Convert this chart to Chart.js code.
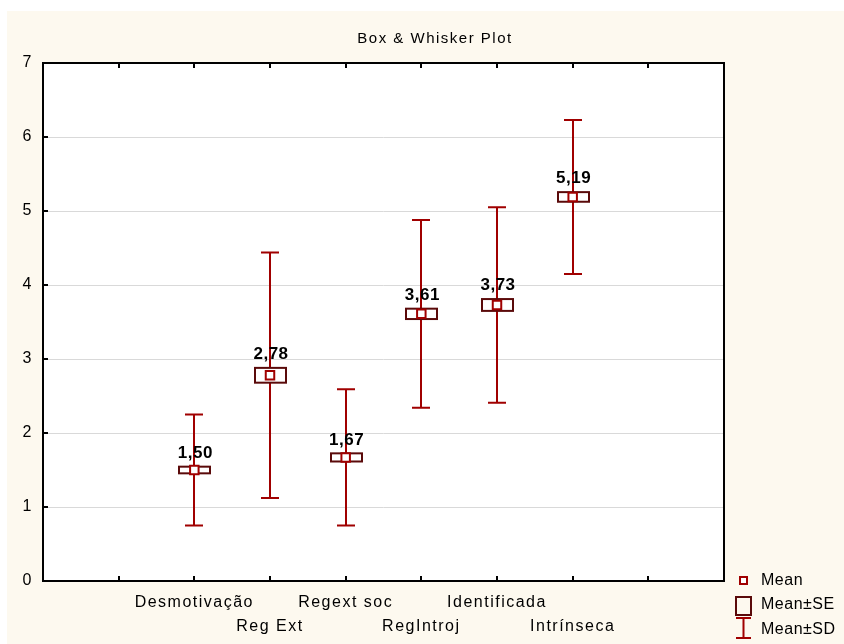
<!DOCTYPE html>
<html lang="pt">
<head>
  <meta charset="UTF-8" />
  <title>Box & Whisker Plot</title>
  <script src="https://cdn.jsdelivr.net/npm/chart.js"></script>
  <style>
    body { margin: 0; background: #fff; }
    #wrap { width: 844px; height: 644px; }
  </style>
</head>
<body>
<div id="wrap"><canvas id="chart" width="844" height="644"></canvas></div>
<script>
  const categories = ["Desmotivação", "Reg Ext", "Regext soc", "RegIntroj", "Identificada", "Intrínseca"];
  const positions = [2, 3, 4, 5, 6, 7];
  const means = [1.50, 2.78, 1.67, 3.61, 3.73, 5.19];
  const meanLabels = ["1,50", "2,78", "1,67", "3,61", "3,73", "5,19"];
  const se = [0.045, 0.10, 0.055, 0.07, 0.08, 0.065];
  const sd = [0.75, 1.66, 0.92, 1.27, 1.32, 1.04];
  const legendItems = ["Mean", "Mean±SE", "Mean±SD"];

  const FONT = "'Liberation Sans', Arial, sans-serif";
  const WHISKER = "#a00000";
  const BOX = "#5a0a0a";

  const boxPlugin = {
    id: "boxPlugin",
    beforeDraw(chart) {
      const ctx = chart.ctx, a = chart.chartArea;
      ctx.save();
      ctx.fillStyle = "#fdf9ef";
      ctx.fillRect(7, 11, chart.width - 7, chart.height - 11);
      ctx.fillStyle = "#fff";
      ctx.fillRect(a.left, a.top, a.right - a.left, a.bottom - a.top);
      ctx.restore();
      ctx.letterSpacing = "1.5px";
    },
    beforeDatasetsDraw(chart) {
      const ctx = chart.ctx, xs = chart.scales.x, ys = chart.scales.y;
      ctx.save();
      positions.forEach((p, i) => {
        const x = Math.round(xs.getPixelForValue(p));
        const top = ys.getPixelForValue(means[i] + sd[i]);
        const bot = ys.getPixelForValue(means[i] - sd[i]);
        ctx.strokeStyle = WHISKER;
        ctx.lineWidth = 2;
        ctx.beginPath();
        ctx.moveTo(x, top); ctx.lineTo(x, bot);
        ctx.moveTo(x - 9, top); ctx.lineTo(x + 9, top);
        ctx.moveTo(x - 9, bot); ctx.lineTo(x + 9, bot);
        ctx.stroke();
        const bt = ys.getPixelForValue(means[i] + se[i]);
        const bb = ys.getPixelForValue(means[i] - se[i]);
        ctx.fillStyle = "#fff";
        ctx.fillRect(x - 15, bt, 31, bb - bt);
        ctx.strokeStyle = BOX;
        ctx.strokeRect(x - 15, bt, 31, bb - bt);
      });
      ctx.restore();
    },
    afterDatasetsDraw(chart) {
      const ctx = chart.ctx, a = chart.chartArea, xs = chart.scales.x, ys = chart.scales.y;
      ctx.save();
      // frame + inward ticks
      ctx.strokeStyle = "#000";
      ctx.lineWidth = 2;
      ctx.strokeRect(a.left, a.top, a.right - a.left, a.bottom - a.top);
      ctx.beginPath();
      for (let v = 1; v < 9; v++) {
        const x = Math.round(xs.getPixelForValue(v));
        ctx.moveTo(x, a.top); ctx.lineTo(x, a.top + 5);
        ctx.moveTo(x, a.bottom); ctx.lineTo(x, a.bottom - 5);
      }
      for (let v = 1; v < 7; v++) {
        const y = Math.round(ys.getPixelForValue(v));
        ctx.moveTo(a.left, y); ctx.lineTo(a.left + 5, y);
      }
      ctx.stroke();
      // mean labels
      ctx.fillStyle = "#000";
      ctx.letterSpacing = "0.5px";
      ctx.font = "bold 17px " + FONT;
      ctx.textAlign = "center";
      ctx.textBaseline = "bottom";
      positions.forEach((p, i) => {
        const x = xs.getPixelForValue(p);
        const bt = ys.getPixelForValue(means[i] + se[i]);
        ctx.fillText(meanLabels[i], x + 1, bt - 5);
      });
      ctx.restore();
    },
    afterDraw(chart) {
      const ctx = chart.ctx;
      ctx.save();
      // title
      ctx.fillStyle = "#000";
      ctx.font = "15px " + FONT;
      ctx.textAlign = "center";
      ctx.textBaseline = "middle";
      ctx.fillText("Box & Whisker Plot", 435, 39);
      // legend
      ctx.letterSpacing = "0.5px";
      ctx.textAlign = "left";
      ctx.font = "16px " + FONT;
      const ly = [581, 605, 630];
      legendItems.forEach((t, i) => ctx.fillText(t, 761, ly[i]));
      ctx.lineWidth = 2;
      ctx.strokeStyle = WHISKER;
      ctx.fillStyle = "#fff";
      ctx.fillRect(740, 577, 7, 7);
      ctx.strokeRect(740, 577, 7, 7);
      ctx.strokeStyle = BOX;
      ctx.strokeRect(736, 597, 15, 18);
      ctx.strokeStyle = WHISKER;
      ctx.beginPath();
      ctx.moveTo(743.5, 618); ctx.lineTo(743.5, 638);
      ctx.moveTo(736, 618); ctx.lineTo(751, 618);
      ctx.moveTo(736, 638); ctx.lineTo(751, 638);
      ctx.stroke();
      ctx.restore();
      ctx.letterSpacing = "0px";
    }
  };

  new Chart(document.getElementById("chart"), {
    type: "scatter",
    data: {
      datasets: [{
        label: "Mean",
        data: positions.map((p, i) => ({ x: p, y: means[i] })),
        pointStyle: "rect",
        pointRadius: 6,
        pointHoverRadius: 6,
        borderColor: WHISKER,
        backgroundColor: "#fff",
        borderWidth: 2
      }]
    },
    options: {
      responsive: false,
      animation: false,
      events: [],
      layout: { padding: { left: 7, top: 63, right: 120, bottom: 0 } },
      plugins: { legend: { display: false }, title: { display: false }, tooltip: { enabled: false } },
      scales: {
        x: {
          type: "linear", min: 0, max: 9,
          afterFit: s => { s.height = 63; },
          grid: { display: false, drawTicks: false },
          border: { display: false },
          ticks: {
            stepSize: 1, autoSkip: false, maxRotation: 0, padding: 10,
            color: "#000", font: { family: FONT, size: 16, lineHeight: 1.5 },
            callback: v => {
              const i = positions.indexOf(v);
              if (i < 0) return "";
              return i % 2 === 0 ? categories[i] : ["", categories[i]];
            }
          }
        },
        y: {
          min: 0, max: 7,
          afterFit: s => { s.width = 36; },
          grid: { color: "#d9d9d9", lineWidth: 1, drawTicks: false },
          border: { display: false },
          ticks: { stepSize: 1, padding: 10, color: "#000", font: { family: FONT, size: 16 } }
        }
      }
    },
    plugins: [boxPlugin]
  });
</script>
</body>
</html>
